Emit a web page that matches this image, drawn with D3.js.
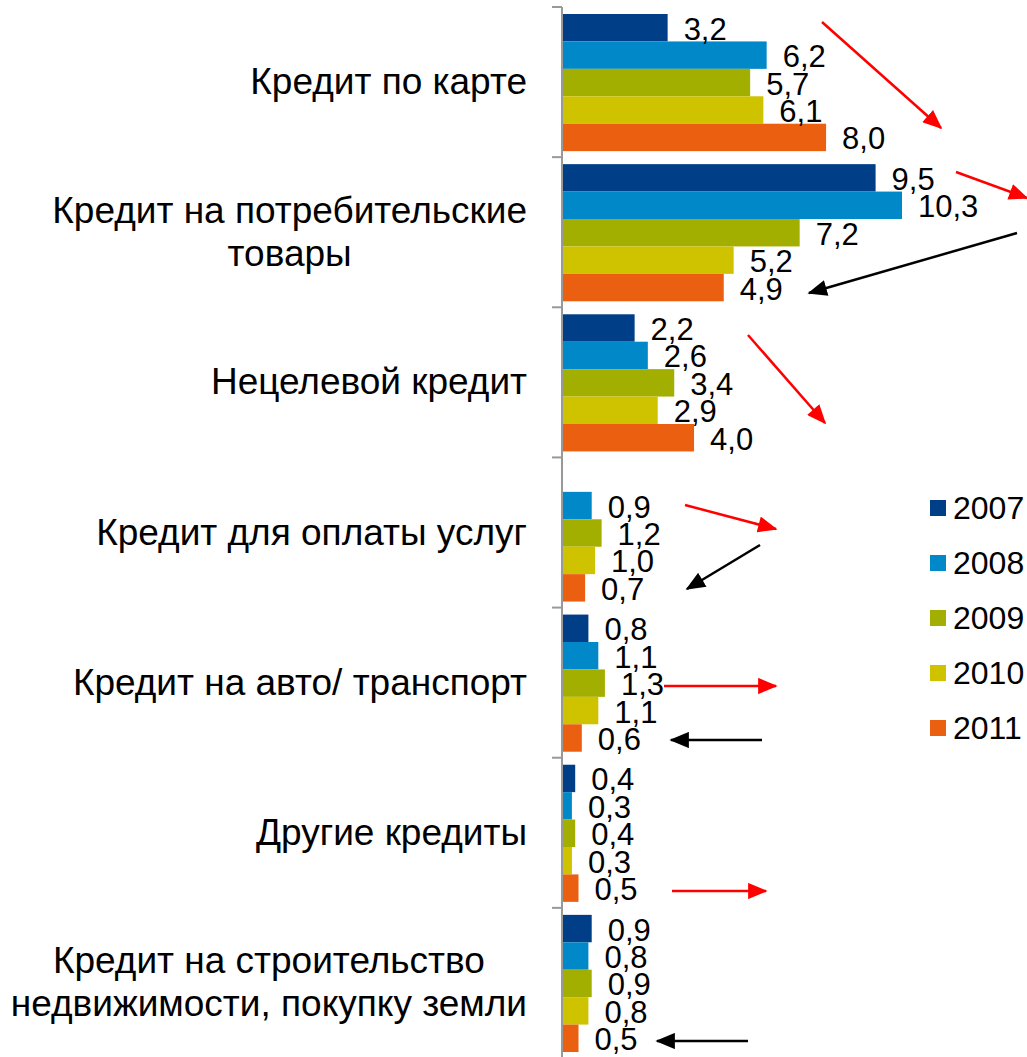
<!DOCTYPE html>
<html>
<head>
<meta charset="utf-8">
<script src="https://cdn.jsdelivr.net/npm/d3@7"></script>
<style>
  body { margin: 0; background: #fff; }
  text { font-family: "Liberation Sans", Arial, sans-serif; fill: #000; }
</style>
</head>
<body>
<svg id="chart" width="1027" height="1057"></svg>
<script>
// categories, top to bottom (lines split for two-row labels)
var categories = [
  ["Кредит по карте"],
  ["Кредит на потребительские", "товары"],
  ["Нецелевой кредит"],
  ["Кредит для оплаты услуг"],
  ["Кредит на авто/ транспорт"],
  ["Другие кредиты"],
  ["Кредит на строительство", "недвижимости, покупку земли"]
];
var years = ["2007", "2008", "2009", "2010", "2011"];
var colors = ["#003f87", "#0088c8", "#a3af00", "#cfc300", "#ea5f10"];

// one array per year, same order as categories
var v2007 = [3.2, 9.5, 2.2, null, 0.8, 0.4, 0.9];
var v2008 = [6.2, 10.3, 2.6, 0.9, 1.1, 0.3, 0.8];
var v2009 = [5.7, 7.2, 3.4, 1.2, 1.3, 0.4, 0.9];
var v2010 = [6.1, 5.2, 2.9, 1.0, 1.1, 0.3, 0.8];
var v2011 = [8.0, 4.9, 4.0, 0.7, 0.6, 0.5, 0.5];
var series = [v2007, v2008, v2009, v2010, v2011];

// hand-drawn trend arrows (annotation only) [x1, y1, x2, y2, colour]
var arrows = [
  [822, 22, 941, 128, "red"],
  [956, 172, 1027, 198, "red"],
  [1017, 233, 809, 293, "black"],
  [748, 335, 825, 423, "red"],
  [685, 505, 776, 529, "red"],
  [760, 545, 687, 589, "black"],
  [664, 686, 776, 686, "red"],
  [762, 740, 671, 740, "black"],
  [672, 891, 766, 891, "red"],
  [748, 1041, 657, 1041, "black"]
];

var svg = d3.select("#chart");
var axisX = 562;
var fsVal = 31;
var fsCat = 37;

var x = d3.scaleLinear().domain([0, 10.3]).range([axisX, 902]);
var catIdx = d3.range(categories.length);
var y = d3.scaleBand().domain(catIdx).range([7, 1058]);
var yIn = d3.scaleBand().domain(years).range([7, y.bandwidth() - 6]);

var rows = [];
catIdx.forEach(function(c) {
  years.forEach(function(yr, k) {
    if (series[k][c] != null) rows.push({c: c, yr: yr, k: k, v: series[k][c]});
  });
});

svg.append("g").selectAll("rect").data(rows).enter().append("rect")
  .attr("x", axisX)
  .attr("y", function(d) { return y(d.c) + yIn(d.yr); })
  .attr("width", function(d) { return x(d.v) - axisX; })
  .attr("height", yIn.bandwidth())
  .attr("fill", function(d) { return colors[d.k]; });

svg.append("g").selectAll("text").data(rows).enter().append("text")
  .attr("x", function(d) { return x(d.v) + 16; })
  .attr("y", function(d) { return y(d.c) + yIn(d.yr) + yIn.bandwidth() / 2 + 12; })
  .attr("font-size", fsVal)
  .text(function(d) { return d.v.toFixed(1).replace(".", ","); });

// axis with ticks between categories
var ax = svg.append("g").attr("stroke", "#999").attr("stroke-width", 2);
ax.append("line").attr("x1", axisX).attr("x2", axisX).attr("y1", 7).attr("y2", 1057);
catIdx.concat([categories.length]).forEach(function(c) {
  var yy = c < categories.length ? y(c) : y(c - 1) + y.bandwidth();
  ax.append("line").attr("x1", axisX - 10).attr("x2", axisX).attr("y1", yy).attr("y2", yy);
});

// category labels: block right-aligned, lines centered inside
catIdx.forEach(function(c) {
  var lines = categories[c];
  var g = svg.append("g");
  var cy = y(c) + y.bandwidth() / 2;
  var ts = lines.map(function(t, i) {
    return g.append("text").attr("font-size", fsCat)
      .attr("text-anchor", "middle")
      .attr("y", cy + (i - (lines.length - 1) / 2) * 43 + 12)
      .text(t);
  });
  var w = d3.max(ts, function(t) { return t.node().getComputedTextLength(); });
  ts.forEach(function(t) { t.attr("x", 527 - w / 2); });
});

// legend
var leg = svg.append("g").selectAll("g").data(years).enter().append("g")
  .attr("transform", function(d, i) { return "translate(930," + (508 + i * 55) + ")"; });
leg.append("rect").attr("x", 0).attr("y", -8).attr("width", 16).attr("height", 16)
  .attr("fill", function(d, i) { return colors[i]; });
leg.append("text").attr("x", 23).attr("y", 11).attr("font-size", fsVal + 1).text(function(d) { return d; });

// arrows
var defs = svg.append("defs");
["red", "black"].forEach(function(col) {
  defs.append("marker").attr("id", "ah-" + col)
    .attr("viewBox", "0 0 12 10").attr("refX", 11).attr("refY", 5)
    .attr("markerWidth", 8).attr("markerHeight", 6.5).attr("orient", "auto")
    .append("path").attr("d", "M0,0L12,5L0,10z").attr("fill", col);
});
svg.append("g").selectAll("line").data(arrows).enter().append("line")
  .attr("x1", function(d) { return d[0]; })
  .attr("y1", function(d) { return d[1]; })
  .attr("x2", function(d) { return d[2]; })
  .attr("y2", function(d) { return d[3]; })
  .attr("stroke", function(d) { return d[4]; })
  .attr("stroke-width", 2.5)
  .attr("marker-end", function(d) { return "url(#ah-" + d[4] + ")"; });
</script>
</body>
</html>
